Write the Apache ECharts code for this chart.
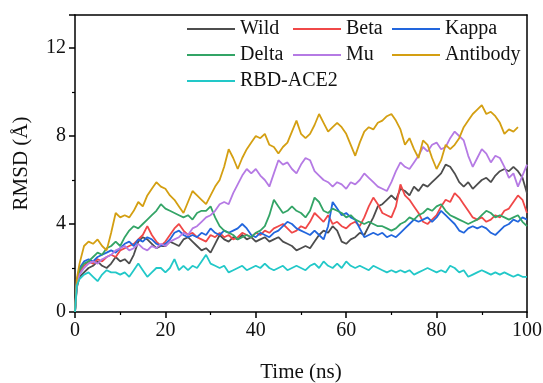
<!DOCTYPE html>
<html>
<head>
<meta charset="utf-8">
<script src="https://cdn.jsdelivr.net/npm/echarts@6/dist/echarts.min.js"></script>
<style>
  html, body { margin: 0; padding: 0; background: #fff; }
  #chart { width: 543px; height: 383px; }
</style>
</head>
<body>
<div id="chart"></div>
<script>
// time points (ns): 0, 0.4, then 1..100
const times = [0, 0.4];
for (let t = 1; t <= 100; t++) times.push(t);

const wild = [0, 1.1, 1.6, 1.8, 2.0, 2.1, 2.3, 2.1, 2.0, 2.2, 2.5, 2.3, 2.4, 2.2, 2.6, 3.2, 3.4, 3.3, 3.1, 2.9, 3.0, 3.0,
  3.2, 3.1, 3.0, 3.3, 3.4, 3.2, 3.0, 2.8, 2.9, 2.7, 3.1, 3.5, 3.3, 3.2, 3.4, 3.3, 3.5, 3.3, 3.4, 3.2,
  3.3, 3.4, 3.2, 3.3, 3.4, 3.2, 3.1, 3.0, 2.8, 2.9, 3.0, 2.9, 3.2, 3.5, 3.7, 3.6, 3.9, 3.7, 3.2, 3.1,
  3.3, 3.4, 3.6, 3.5, 3.9, 4.3, 4.8, 4.9, 5.1, 5.3, 5.1, 5.6, 5.5, 5.3, 5.7, 5.5, 5.8, 5.7, 5.9, 6.1,
  6.3, 6.7, 6.6, 6.3, 5.9, 5.7, 5.9, 5.6, 5.8, 6.0, 6.1, 5.9, 6.2, 6.4, 6.5, 6.4, 6.6, 6.4, 6.1, 5.4];

const beta = [0, 1.2, 1.8, 2.1, 2.3, 2.2, 2.4, 2.3, 2.5, 2.6, 2.5, 2.8, 2.9, 3.0, 3.1, 3.3, 3.5, 3.9, 3.5, 3.2, 3.0, 3.2,
  3.5, 3.8, 4.0, 3.7, 3.5, 3.6, 3.4, 3.3, 3.2, 3.5, 3.4, 3.6, 3.4, 3.5, 3.3, 3.4, 3.6, 3.5, 3.4, 3.6,
  3.5, 3.7, 3.6, 3.8, 3.9, 4.0, 3.8, 3.6, 3.7, 3.9, 3.8, 4.1, 4.5, 4.3, 4.1, 4.4, 4.0, 4.1, 3.9, 3.8,
  4.0, 4.1, 3.9, 4.3, 4.8, 5.2, 4.9, 4.5, 4.4, 4.3, 4.8, 5.8, 5.3, 5.1, 4.8, 4.5, 4.1, 4.0, 4.2, 4.4,
  4.8, 5.1, 5.0, 5.4, 5.2, 4.9, 4.6, 4.3, 4.2, 4.3, 4.1, 4.2, 4.4, 4.3, 4.6, 4.7, 5.0, 5.3, 5.1, 4.5];

const kappa = [0, 1.4, 2.0, 2.3, 2.4, 2.3, 2.5, 2.6, 2.7, 2.8, 2.7, 2.9, 3.1, 3.2, 3.0, 3.3, 3.2, 3.4, 3.3, 3.1, 3.0, 3.1,
  3.3, 3.6, 3.7, 3.5, 3.4, 3.5, 3.4, 3.6, 3.5, 3.8, 3.6, 3.5, 3.7, 3.6, 3.7, 3.8, 4.0, 3.8, 3.5, 3.4,
  3.6, 3.5, 3.4, 3.6, 3.7, 3.9, 4.1, 4.0, 3.8, 3.7, 3.6, 3.5, 3.7, 3.5, 3.3, 3.9, 5.0, 4.7, 4.4, 4.5,
  4.3, 4.2, 3.8, 3.4, 3.5, 3.6, 3.5, 3.6, 3.4, 3.5, 3.4, 3.6, 3.8, 4.0, 4.2, 4.1, 4.2, 4.3, 4.1, 4.3,
  4.6, 4.4, 4.2, 4.0, 3.7, 3.6, 3.8, 3.9, 3.8, 3.9, 3.8, 3.6, 3.5, 3.7, 3.9, 4.0, 4.2, 4.1, 4.3, 4.2];

const delta = [0, 1.3, 1.9, 2.2, 2.3, 2.5, 2.7, 2.6, 2.9, 3.0, 3.2, 3.0, 3.4, 3.7, 3.9, 3.8, 4.0, 4.2, 4.4, 4.6, 4.9, 4.7,
  4.6, 4.5, 4.4, 4.3, 4.4, 4.2, 4.5, 4.6, 4.6, 4.8, 4.3, 3.9, 3.7, 3.6, 3.5, 3.3, 3.4, 3.5, 3.4, 3.6,
  3.7, 3.9, 4.4, 5.1, 4.8, 4.5, 4.6, 4.8, 4.6, 4.5, 4.3, 4.6, 5.2, 5.0, 4.6, 4.5, 4.7, 4.6, 4.5, 4.3,
  4.4, 4.2, 4.1, 4.0, 4.1, 4.0, 3.9, 3.9, 3.8, 3.7, 3.8, 4.0, 4.1, 4.3, 4.2, 4.4, 4.5, 4.7, 4.6, 4.8,
  4.9, 4.6, 4.4, 4.3, 4.2, 4.1, 4.0, 4.1, 4.2, 4.4, 4.6, 4.5, 4.3, 4.4, 4.3, 4.2, 4.3, 4.4, 4.1, 3.9];

const mu = [0, 1.3, 1.7, 2.0, 2.2, 2.3, 2.2, 2.4, 2.5, 2.6, 2.8, 2.9, 3.0, 2.8, 2.9, 3.1, 2.9, 2.8, 3.0, 2.9, 3.1, 3.0,
  3.2, 3.3, 3.4, 3.6, 3.5, 3.8, 3.9, 4.1, 4.3, 4.4, 4.6, 4.9, 5.0, 4.9, 5.4, 5.8, 6.2, 6.5, 6.3, 6.5,
  6.2, 6.0, 5.7, 6.3, 6.9, 6.7, 6.8, 6.5, 6.3, 6.7, 7.0, 6.9, 6.4, 6.2, 6.0, 5.9, 5.7, 5.9, 5.8, 5.6,
  5.9, 5.8, 6.0, 6.3, 6.1, 5.9, 5.7, 5.6, 5.5, 5.9, 6.4, 6.8, 6.6, 6.5, 6.8, 7.1, 7.5, 7.3, 7.6, 7.7,
  7.4, 7.5, 7.9, 8.2, 8.0, 7.8, 7.1, 6.6, 7.0, 7.4, 7.2, 6.8, 7.1, 7.0, 6.6, 6.1, 6.3, 5.7, 6.2, 6.7];

const antibody = [0, 1.5, 2.2, 3.0, 3.2, 3.1, 3.3, 3.0, 2.8, 3.6, 4.5, 4.3, 4.4, 4.3, 4.6, 5.0, 4.8, 5.3, 5.6, 5.9, 5.7, 5.6,
  5.3, 5.1, 4.8, 4.5, 5.0, 5.5, 5.3, 5.1, 4.9, 5.3, 5.7, 6.0, 6.6, 7.4, 7.0, 6.5, 7.0, 7.4, 7.7, 8.0,
  7.9, 8.1, 7.6, 7.5, 7.2, 7.5, 7.7, 8.2, 8.7, 8.1, 7.9, 8.1, 8.5, 9.0, 8.6, 8.2, 8.4, 8.6, 8.4, 8.1,
  7.6, 7.1, 7.7, 8.2, 8.4, 8.3, 8.6, 8.7, 8.9, 9.0, 8.7, 8.3, 7.6, 7.9, 7.4, 7.0, 7.8, 7.6, 7.0, 6.5,
  6.9, 7.6, 7.4, 7.6, 7.9, 8.4, 8.7, 9.0, 9.2, 9.4, 9.0, 9.1, 8.9, 8.6, 8.1, 8.3, 8.2, 8.4];

const rbdAce2 = [0, 1.2, 1.5, 1.7, 1.8, 1.6, 1.4, 1.7, 1.9, 1.8, 1.8, 1.7, 1.8, 1.6, 1.9, 2.2, 1.9, 1.6, 1.8, 2.0, 2.0, 1.8,
  2.0, 2.4, 1.9, 2.1, 1.9, 2.1, 2.0, 2.3, 2.6, 2.2, 2.1, 2.0, 2.1, 1.8, 1.9, 2.0, 2.1, 1.9, 2.0, 2.1,
  2.0, 2.2, 2.0, 1.9, 2.0, 2.1, 1.9, 2.0, 2.1, 2.0, 1.9, 2.1, 2.2, 2.0, 2.3, 2.1, 2.0, 2.2, 2.0, 2.3,
  2.1, 2.0, 2.1, 2.0, 1.9, 2.1, 2.0, 1.9, 1.8, 1.9, 1.8, 1.9, 1.8, 1.9, 1.7, 1.8, 1.9, 2.0, 1.9, 1.8,
  1.9, 1.8, 2.1, 2.0, 1.8, 1.9, 1.6, 1.7, 1.8, 1.9, 1.8, 1.7, 1.8, 1.7, 1.8, 1.7, 1.6, 1.7, 1.6, 1.6];

const names = ['Wild', 'Beta', 'Kappa', 'Delta', 'Mu', 'Antibody', 'RBD-ACE2'];
const colors = ['#4d4d4d', '#f04848', '#2266dd', '#33a466', '#b57ae4', '#d49f12', '#22c8c8'];
const values = [wild, beta, kappa, delta, mu, antibody, rbdAce2];

const font = 'Liberation Serif, Times New Roman, serif';

const chart = echarts.init(document.getElementById('chart'));

const legendBase = {
  orient: 'vertical',
  top: 19,
  itemWidth: 48,
  itemHeight: 2,
  itemGap: 6,
  icon: 'rect',
  textStyle: { fontFamily: font, fontSize: 20, color: '#111', lineHeight: 20 },
  padding: 0
};

const axisCommon = {
  axisLine: { show: true, lineStyle: { color: '#000', width: 1.5 } },
  axisTick: { show: true, length: 6, lineStyle: { color: '#000', width: 1.5 } },
  minorTick: { show: true, splitNumber: 2, length: 3, lineStyle: { color: '#000', width: 1.2 } },
  splitLine: { show: false }
};

// plain frame lines for top and right sides
const frame = {
  axisLine: { show: true, onZero: false, lineStyle: { color: '#000', width: 1.5 } },
  axisTick: { show: false },
  axisLabel: { show: false },
  splitLine: { show: false }
};

chart.setOption({
  animation: false,
  backgroundColor: '#fff',
  grid: { left: 75, right: 16, top: 15, bottom: 71, outerBoundsMode: 'none', containLabel: false },
  legend: [
    Object.assign({}, legendBase, { left: 187, data: ['Wild', 'Delta', 'RBD-ACE2'] }),
    Object.assign({}, legendBase, { left: 293, data: ['Beta', 'Mu'] }),
    Object.assign({}, legendBase, { left: 392, data: ['Kappa', 'Antibody'] })
  ],
  xAxis: [
    Object.assign({}, axisCommon, {
      type: 'value',
      min: 0, max: 100, interval: 20,
      name: 'Time (ns)',
      nameLocation: 'middle',
      nameGap: 50,
      nameTextStyle: { fontFamily: font, fontSize: 21, color: '#111' },
      axisLabel: { fontFamily: font, fontSize: 20, color: '#111', margin: 9 }
    }),
    Object.assign({}, frame, { type: 'value', position: 'top', min: 0, max: 100 })
  ],
  yAxis: [
    Object.assign({}, axisCommon, {
      type: 'value',
      min: 0, max: 13.5, interval: 4,
      name: 'RMSD (Å)',
      nameLocation: 'middle',
      nameGap: 43,
      nameTextStyle: { fontFamily: font, fontSize: 21, color: '#111' },
      axisLabel: { fontFamily: font, fontSize: 20, color: '#111', margin: 9, showMaxLabel: false }
    }),
    Object.assign({}, frame, { type: 'value', position: 'right', min: 0, max: 13.5 })
  ],
  series: names.map((n, i) => ({
    name: n,
    type: 'line',
    color: colors[i],
    showSymbol: false,
    symbol: 'none',
    lineStyle: { width: 1.8, color: colors[i] },
    data: values[i].map((v, k) => [times[k], v])
  }))
});
</script>
</body>
</html>
